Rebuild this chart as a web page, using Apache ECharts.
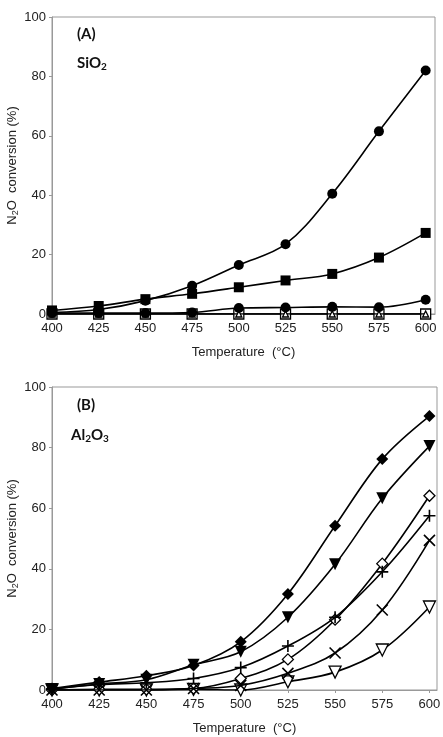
<!DOCTYPE html>
<html>
<head>
<meta charset="utf-8">
<script src="https://cdn.jsdelivr.net/npm/echarts@6/dist/echarts.min.js"></script>
<style>
  html, body { margin: 0; padding: 0; background: #fff; }
  #chart { width: 443px; height: 737px; }
</style>
</head>
<body>
<div id="chart"></div>
<script>
// temperatures (°C)
var temps = [400, 425, 450, 475, 500, 525, 550, 575, 600];

// (A) SiO2
var sio2Circle = [0.5, 1.5, 4.5, 9.5, 16.5, 23.5, 40.5, 61.5, 82];
var sio2Square = [1.2, 2.7, 5, 6.8, 9, 11.3, 13.5, 19, 27.3];
var sio2CircleLow = [0.3, 0.3, 0.3, 0.5, 2, 2.2, 2.4, 2.3, 4.8];
var sio2OpenSquare = [0, 0, 0, 0, 0, 0, 0, 0, 0];
var sio2OpenTri = [0, 0, 0, 0, 0, 0, 0, 0, 0];

// (B) Al2O3
var alDiamond = [0.5, 2.6, 4.7, 8.1, 15.9, 31.7, 54.2, 76.2, 90.4];
var alTriDown = [0.3, 2.0, 3.4, 8.3, 12.6, 24, 41.5, 63.3, 80.5];
var alPlus = [0.3, 1.8, 2.4, 3.8, 7.4, 14.5, 24, 39, 57.5];
var alOpenDiamond = [0, 0.2, 0.2, 0.5, 3.8, 10.1, 23.2, 41.7, 64.1];
var alCross = [0, 0, 0, 0.5, 1.5, 5.5, 12.2, 26.4, 49.4];
var alOpenTri = [0, 0, 0, 0.2, 0, 2.7, 5.9, 13.2, 27.4];

var yTicks = [0, 20, 40, 60, 80, 100];

function pairs(vals) {
  return temps.map(function (t, i) { return [t, vals[i]]; });
}

var plusPath = 'path://M0,5L10,5M5,0L5,10';
var crossPath = 'path://M0,0L10,10M10,0L0,10';

function line(name, vals, grid, symbol, size, filled, rotate, z) {
  return {
    name: name,
    type: 'line',
    xAxisIndex: grid,
    yAxisIndex: grid,
    data: pairs(vals),
    smooth: 0.35,
    symbol: symbol,
    symbolSize: size,
    symbolRotate: rotate || 0,
    showAllSymbol: true,
    lineStyle: { color: '#000', width: 1.6 },
    itemStyle: {
      color: filled ? '#000' : '#fff',
      borderColor: '#000',
      borderWidth: filled ? 0 : 1.3
    },
    z: z || 2
  };
}

function strokeLine(name, vals, grid, path, size, z) {
  var s = line(name, vals, grid, path, size, false, 0, z);
  s.itemStyle = { color: 'none', borderColor: '#000', borderWidth: 1.6 };
  return s;
}

var axisFont = { color: '#222', fontSize: 13, fontFamily: 'Liberation Sans, Arial' };

function xAxis(grid, max) {
  return {
    type: 'value',
    gridIndex: grid,
    min: 400,
    max: max,
    interval: 25,
    name: 'Temperature  (°C)',
    nameLocation: 'middle',
    nameGap: 32,
    nameMoveOverlap: false,
    nameTextStyle: { color: '#222', fontSize: 13, fontFamily: 'Liberation Sans, Arial' },
    axisLine: { lineStyle: { color: '#999' } },
    axisTick: { show: true, length: 3, lineStyle: { color: '#999' } },
    axisLabel: Object.assign({ margin: 8, showMaxLabel: false }, axisFont),
    splitLine: { show: false }
  };
}

function yAxis(grid) {
  return {
    type: 'value',
    gridIndex: grid,
    min: yTicks[0],
    max: yTicks[yTicks.length - 1],
    interval: 20,
    name: '{a|N}{s|2}{a|O  conversion (%)}',
    nameLocation: 'middle',
    nameGap: 32,
    nameMoveOverlap: false,
    nameTextStyle: {
      rich: {
        a: { color: '#222', fontSize: 13, fontFamily: 'Liberation Sans, Arial' },
        s: { color: '#222', fontSize: 9, fontFamily: 'Liberation Sans, Arial', padding: [6, 0, 0, 0] }
      }
    },
    axisLine: { show: true, lineStyle: { color: '#999' } },
    axisTick: { show: true, length: 3, lineStyle: { color: '#999' } },
    axisLabel: Object.assign({ margin: 6 }, axisFont),
    splitLine: { show: false }
  };
}

var labelRich = {
  b: { fontFamily: 'Lato, Open Sans', fontWeight: 'bold', fontSize: 15, color: '#111' },
  sub: { fontFamily: 'Lato, Open Sans', fontWeight: 'bold', fontSize: 10, color: '#111', padding: [7, 0, 0, 0] }
};

var myChart = echarts.init(document.getElementById('chart'));
myChart.setOption({
  animation: false,
  backgroundColor: '#fff',
  title: [
    { text: '{b|(A)}', left: 72, top: 22, textStyle: { rich: labelRich } },
    { text: '{b|SiO}{sub|2}', left: 72, top: 50, textStyle: { rich: labelRich } },
    { text: '{b|(B)}', left: 72, top: 393, textStyle: { rich: labelRich } },
    { text: '{b|Al}{sub|2}{b|O}{sub|3}', left: 66, top: 422, textStyle: { rich: labelRich } }
  ],
  grid: [
    { left: 52, top: 17, width: 383, height: 297, show: true, borderColor: '#999', borderWidth: 1, outerBoundsMode: 'none' },
    { left: 52, top: 387, width: 385, height: 303, show: true, borderColor: '#999', borderWidth: 1, outerBoundsMode: 'none' }
  ],
  xAxis: [xAxis(0, 605), xAxis(1, 604)],
  yAxis: [yAxis(0), yAxis(1)],
  series: [
    line('SiO2 d', sio2OpenSquare, 0, 'rect', 10, false, 0, 2),
    line('SiO2 e', sio2OpenTri, 0, 'triangle', 6, false, 0, 3),
    line('SiO2 a', sio2Circle, 0, 'circle', 10, true, 0, 5),
    line('SiO2 b', sio2Square, 0, 'rect', 10, true, 0, 5),
    line('SiO2 c', sio2CircleLow, 0, 'circle', 10, true, 0, 5),

    line('Al2O3 f', alOpenTri, 1, 'triangle', 12, false, 180, 2),
    line('Al2O3 d', alOpenDiamond, 1, 'diamond', 11, false, 0, 3),
    strokeLine('Al2O3 e', alCross, 1, crossPath, 11, 4),
    strokeLine('Al2O3 c', alPlus, 1, plusPath, 12, 4),
    line('Al2O3 b', alTriDown, 1, 'triangle', 12, true, 180, 5),
    line('Al2O3 a', alDiamond, 1, 'diamond', 12, true, 0, 5)
  ]
});
</script>
</body>
</html>
